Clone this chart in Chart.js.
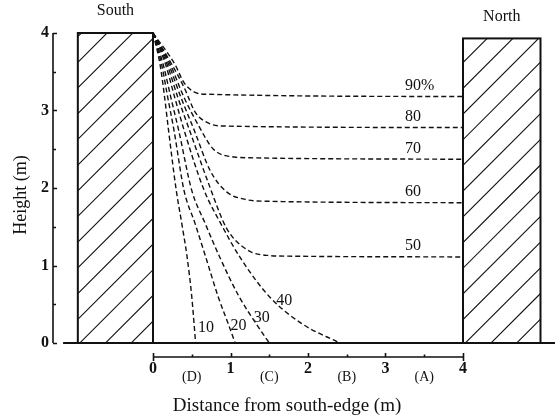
<!DOCTYPE html>
<html>
<head>
<meta charset="utf-8">
<script src="https://cdn.jsdelivr.net/npm/chart.js@4.4.1/dist/chart.umd.min.js"></script>
<style>
  html, body { margin: 0; padding: 0; background: #fff; }
  canvas { display: block; }
</style>
</head>
<body>
<canvas id="chart" width="555" height="418"></canvas>
<script>
// Isolines of relative illuminance (%) between the two walls
// distance from the south edge (m) / height (m)
const levels = ['10', '20', '30', '40', '50', '60', '70', '80', '90%'];

const dist10 = [0, 0.09, 0.15, 0.20, 0.30, 0.37, 0.44, 0.50, 0.55];
const height10 = [4, 3.60, 3.17, 2.75, 1.97, 1.55, 1.11, 0.60, 0];
const dist20 = [0, 0.11, 0.19, 0.27, 0.40, 0.54, 0.68, 0.84, 0.97, 1.06];
const height20 = [4, 3.60, 3.17, 2.75, 1.97, 1.55, 1.11, 0.60, 0.25, 0];
const dist30 = [0, 0.13, 0.23, 0.33, 0.50, 0.67, 0.86, 1.11, 1.33, 1.50];
const height30 = [4, 3.60, 3.17, 2.75, 1.97, 1.55, 1.11, 0.60, 0.25, 0];
const dist40 = [0, 0.16, 0.28, 0.40, 0.66, 0.87, 1.12, 1.50, 1.92, 2.41];
const height40 = [4, 3.60, 3.17, 2.75, 1.97, 1.55, 1.11, 0.60, 0.25, 0];
const dist50 = [0, 0.18, 0.32, 0.47, 0.72, 0.95, 1.22, 1.48, 1.80, 4];
const height50 = [4, 3.60, 3.17, 2.75, 2.05, 1.48, 1.20, 1.13, 1.12, 1.11];
const dist60 = [0, 0.20, 0.36, 0.53, 0.74, 0.95, 1.20, 1.42, 4];
const height60 = [4, 3.60, 3.17, 2.75, 2.22, 1.95, 1.85, 1.83, 1.81];
const dist70 = [0, 0.22, 0.40, 0.58, 0.78, 1.05, 1.25, 4];
const height70 = [4, 3.60, 3.17, 2.82, 2.50, 2.40, 2.39, 2.37];
const dist80 = [0, 0.24, 0.40, 0.55, 0.71, 0.90, 4];
const height80 = [4, 3.60, 3.30, 2.97, 2.84, 2.80, 2.78];
const dist90 = [0, 0.28, 0.40, 0.53, 0.70, 4];
const height90 = [4, 3.60, 3.36, 3.24, 3.21, 3.18];

const distances = [dist10, dist20, dist30, dist40, dist50, dist60, dist70, dist80, dist90];
const heights = [height10, height20, height30, height40, height50, height60, height70, height80, height90];

// walls: south, north
const wallNames = ['South', 'North'];
const wallFrom = [-0.97, 4];
const wallTo = [0, 5.0];
const wallHeight = [4, 3.93];

const xTicks = [0, 0.5, 1, 1.5, 2, 2.5, 3, 3.5, 4];
const xTickLabels = ['0', '(D)', '1', '(C)', '2', '(B)', '3', '(A)', '4'];
const yTicks = [0, 0.5, 1, 1.5, 2, 2.5, 3, 3.5, 4];
const yTickLabels = ['0', '', '1', '', '2', '', '3', '', '4'];

const INK = '#111';
const SERIF = '"Liberation Serif", "Times New Roman", serif';

const datasets = levels.map((lvl, i) => ({
    label: lvl,
    data: distances[i].map((d, j) => ({ x: d, y: heights[i][j] })),
    showLine: true,
    borderColor: INK,
    borderWidth: 1.4,
    borderDash: [5, 3],
    pointRadius: 0,
    cubicInterpolationMode: 'monotone',
    fill: false
}));

function hatch(ctx, x0, y0, x1, y1) {
    const step = 25.7, phase = 320;
    ctx.save();
    ctx.beginPath();
    ctx.rect(x0, y0, x1 - x0, y1 - y0);
    ctx.clip();
    ctx.beginPath();
    let c = phase + Math.ceil((x0 + y0 - phase) / step) * step;
    for (; c <= x1 + y1; c += step) {
        ctx.moveTo(x0, c - x0);
        ctx.lineTo(x1, c - x1);
    }
    ctx.lineWidth = 1.1;
    ctx.strokeStyle = INK;
    ctx.stroke();
    ctx.restore();
}

// walls, ground, axis lines and tick marks
const framePlugin = {
    id: 'frame',
    beforeDatasetsDraw(chart) {
        const { ctx, scales: { x, y }, chartArea } = chart;
        ctx.save();
        ctx.strokeStyle = INK;
        ctx.lineCap = 'butt';

        // ground
        ctx.lineWidth = 1.8;
        ctx.beginPath();
        ctx.moveTo(x.getPixelForValue(-1.16), y.getPixelForValue(0));
        ctx.lineTo(chartArea.right, y.getPixelForValue(0));
        ctx.stroke();

        // height axis
        const ax = chartArea.left - 1;
        ctx.lineWidth = 1.6;
        ctx.beginPath();
        ctx.moveTo(ax, y.getPixelForValue(4));
        ctx.lineTo(ax, y.getPixelForValue(0));
        yTicks.forEach((v, i) => {
            const py = Math.round(y.getPixelForValue(v)) + 0.5;
            ctx.moveTo(ax, py);
            ctx.lineTo(ax + (yTickLabels[i] ? 4 : 3), py);
        });
        ctx.stroke();

        // distance axis
        const ay = chartArea.bottom;
        ctx.beginPath();
        ctx.moveTo(x.getPixelForValue(0), ay);
        ctx.lineTo(x.getPixelForValue(4), ay);
        xTicks.forEach((v) => {
            const px = Math.round(x.getPixelForValue(v)) + 0.5;
            const major = Number.isInteger(v);
            const ends = v === 0 || v === 4;
            ctx.moveTo(px, ay - (major ? 4 : 2.5));
            ctx.lineTo(px, ay + (ends ? 4 : 0));
        });
        ctx.stroke();

        // walls
        wallNames.forEach((name, i) => {
            const x0 = x.getPixelForValue(wallFrom[i]);
            const x1 = x.getPixelForValue(wallTo[i]);
            const y0 = y.getPixelForValue(wallHeight[i]);
            const y1 = y.getPixelForValue(0);
            ctx.fillStyle = '#fff';
            ctx.fillRect(x0, y0, x1 - x0, y1 - y0);
            hatch(ctx, x0, y0, x1, y1);
            ctx.lineWidth = 2;
            ctx.strokeRect(x0, y0, x1 - x0, y1 - y0);
            ctx.fillStyle = INK;
            ctx.font = '16px ' + SERIF;
            ctx.textAlign = 'center';
            ctx.textBaseline = 'middle';
            ctx.fillText(name, (x0 + x1) / 2, y0 - 22);
        });
        ctx.restore();
    },
    afterDatasetsDraw(chart) {
        const { ctx, scales: { x, y } } = chart;
        ctx.save();
        ctx.fillStyle = INK;
        ctx.font = '16px ' + SERIF;
        ctx.textBaseline = 'middle';
        ctx.textAlign = 'left';
        // labels on the levelled-off lines, beside the north wall
        levels.forEach((lvl, i) => {
            const h = heights[i];
            if (h[h.length - 1] > 0) {
                ctx.fillText(lvl, x.getPixelForValue(3.25), y.getPixelForValue(h[h.length - 1]) - 11);
            }
        });
        // labels near the ground for the steep lines
        const spots = [[0.58, 0.19], [1.0, 0.22], [1.3, 0.32], [1.59, 0.55]];
        spots.forEach((s, i) => {
            ctx.fillText(levels[i], x.getPixelForValue(s[0]), y.getPixelForValue(s[1]));
        });
        // distance axis title
        ctx.font = '19px ' + SERIF;
        ctx.textAlign = 'center';
        ctx.fillText('Distance from south-edge (m)', x.getPixelForValue(1.73), 406);
        ctx.restore();
    }
};

function xTickFont(ctx) {
    const whole = !ctx.tick || Number.isInteger(ctx.tick.value);
    return whole
        ? { family: SERIF, size: 16, weight: 'bold', lineHeight: 1.2 }
        : { family: SERIF, size: 14, lineHeight: 0.85 };
}

new Chart(document.getElementById('chart'), {
    type: 'scatter',
    data: { datasets },
    options: {
        responsive: false,
        animation: false,
        events: [],
        layout: { padding: { top: 33, right: 0, bottom: 0, left: 0 } },
        plugins: { legend: { display: false }, tooltip: { enabled: false } },
        scales: {
            x: {
                type: 'linear',
                min: -99 / 77.5,
                max: 402 / 77.5,
                grid: { display: false, drawTicks: false },
                border: { display: false },
                afterBuildTicks: (scale) => { scale.ticks = xTicks.map(v => ({ value: v })); },
                afterFit: (scale) => { scale.height = 61; },
                ticks: {
                    autoSkip: false,
                    maxRotation: 0,
                    padding: 2,
                    color: INK,
                    font: xTickFont,
                    callback: (v) => {
                        const label = xTickLabels[xTicks.indexOf(v)];
                        return Number.isInteger(v) ? label : ['', label];
                    }
                }
            },
            y: {
                type: 'linear',
                min: -14 / 77.5,
                max: 4,
                grid: { display: false, drawTicks: false },
                border: { display: false },
                afterBuildTicks: (scale) => { scale.ticks = yTicks.map(v => ({ value: v })); },
                afterFit: (scale) => { scale.width = 54; },
                ticks: {
                    autoSkip: false,
                    padding: 5,
                    color: INK,
                    font: { family: SERIF, size: 16, weight: 'bold' },
                    callback: (v) => yTickLabels[yTicks.indexOf(v)]
                },
                title: {
                    display: true,
                    text: 'Height (m)',
                    color: INK,
                    font: { family: SERIF, size: 18, lineHeight: 1.2 },
                    padding: { top: 10, bottom: 0 }
                }
            }
        }
    },
    plugins: [framePlugin]
});
</script>
</body>
</html>
